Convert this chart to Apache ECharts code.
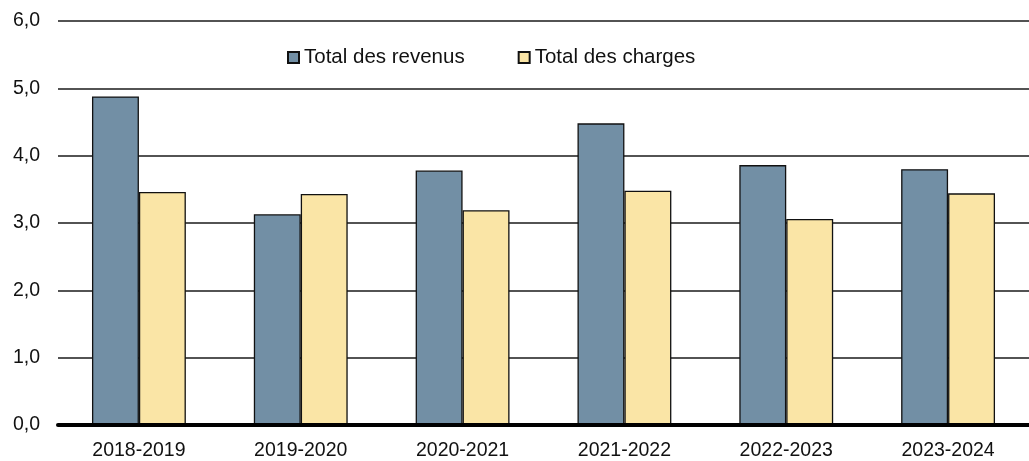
<!DOCTYPE html>
<html>
<head>
<meta charset="utf-8">
<script src="https://cdn.jsdelivr.net/npm/echarts@6/dist/echarts.min.js"></script>
<style>
html,body{margin:0;padding:0;background:#fff;}
#c{width:1029px;height:461px;}
</style>
</head>
<body>
<div id="c"></div>
<script>
const categories = ['2018-2019','2019-2020','2020-2021','2021-2022','2022-2023','2023-2024'];
const revenus = [4.88, 3.13, 3.78, 4.48, 3.86, 3.80];
const charges = [3.46, 3.43, 3.19, 3.48, 3.06, 3.44];
const seriesNames = ['Total des revenus','Total des charges'];
const yTicks = {min: 0, max: 6, interval: 1};

const chart = echarts.init(document.getElementById('c'), null, {renderer:'canvas'});
const font = '"Liberation Sans", Arial, sans-serif';
chart.setOption({
  animation: false,
  backgroundColor: '#ffffff',
  textStyle: {fontFamily: font},
  legend: {
    top: 42,
    left: 282,
    itemWidth: 11,
    itemHeight: 11,
    itemGap: 53,
    textStyle: {fontFamily: font, fontSize: 20.5, color: '#111'},
    data: seriesNames.map(n => ({name: n, icon: 'rect'}))
  },
  grid: {left: 58, right: -11, top: 21, bottom: 36, containLabel: false},
  xAxis: {
    type: 'category',
    data: categories,
    axisTick: {show: false},
    axisLine: {show: true, lineStyle: {color: '#000', width: 4}},
    axisLabel: {fontFamily: font, fontSize: 19.5, color: '#111', margin: 16},
    z: 10
  },
  yAxis: {
    type: 'value',
    min: yTicks.min, max: yTicks.max, interval: yTicks.interval,
    axisLine: {show: false},
    axisTick: {show: false},
    splitLine: {show: true, lineStyle: {color: '#1a1a1a', width: 1.5}},
    axisLabel: {
      fontFamily: font, fontSize: 19.5, color: '#111', margin: 18,
      formatter: v => v.toFixed(1).replace('.', ',')
    }
  },
  series: [
    {
      name: seriesNames[0], type: 'bar', data: revenus,
      barWidth: '29%', barGap: '0%',
      itemStyle: {color: '#728FA5', borderColor: '#111', borderWidth: 1.3}
    },
    {
      name: seriesNames[1], type: 'bar', data: charges,
      barWidth: '29%', barGap: '0%',
      itemStyle: {color: '#FAE5A6', borderColor: '#111', borderWidth: 1.3}
    }
  ]
});
</script>
</body>
</html>
